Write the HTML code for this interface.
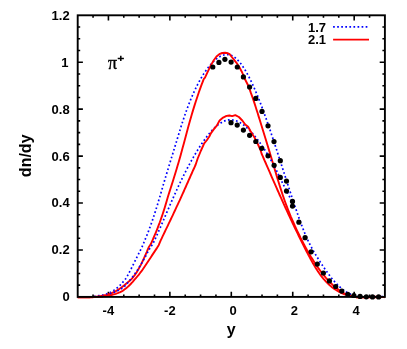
<!DOCTYPE html>
<html><head><meta charset="utf-8"><title>plot</title>
<style>
html,body{margin:0;padding:0;background:#fff;}
svg{display:block;will-change:transform;font-family:"Liberation Sans",sans-serif;}
.t{font-size:13px;font-weight:bold;fill:#000;}
.a{font-size:16px;font-weight:bold;fill:#000;}
.b{fill:none;stroke:#0000ff;stroke-width:1.7;stroke-dasharray:1.7 2.37;}
.r{fill:none;stroke:#ff0000;stroke-width:1.9;stroke-linejoin:round;}
</style></head><body>
<svg width="407" height="349" viewBox="0 0 407 349">
<rect width="407" height="349" fill="#fff"/>
<path d="M93.06,296.9v-2.5M93.06,15.3v2.5M108.42,296.9v-5.2M108.42,15.3v5.2M123.78,296.9v-2.5M123.78,15.3v2.5M139.14,296.9v-2.5M139.14,15.3v2.5M154.50,296.9v-2.5M154.50,15.3v2.5M169.86,296.9v-5.2M169.86,15.3v5.2M185.22,296.9v-2.5M185.22,15.3v2.5M200.58,296.9v-2.5M200.58,15.3v2.5M215.94,296.9v-2.5M215.94,15.3v2.5M231.30,296.9v-5.2M231.30,15.3v5.2M246.66,296.9v-2.5M246.66,15.3v2.5M262.02,296.9v-2.5M262.02,15.3v2.5M277.38,296.9v-2.5M277.38,15.3v2.5M292.74,296.9v-5.2M292.74,15.3v5.2M308.10,296.9v-2.5M308.10,15.3v2.5M323.46,296.9v-2.5M323.46,15.3v2.5M338.82,296.9v-2.5M338.82,15.3v2.5M354.18,296.9v-5.2M354.18,15.3v5.2M369.54,296.9v-2.5M369.54,15.3v2.5M77.7,285.17h2.5M384.9,285.17h-2.5M77.7,273.43h2.5M384.9,273.43h-2.5M77.7,261.70h2.5M384.9,261.70h-2.5M77.7,249.97h5.2M384.9,249.97h-5.2M77.7,238.23h2.5M384.9,238.23h-2.5M77.7,226.50h2.5M384.9,226.50h-2.5M77.7,214.77h2.5M384.9,214.77h-2.5M77.7,203.03h5.2M384.9,203.03h-5.2M77.7,191.30h2.5M384.9,191.30h-2.5M77.7,179.57h2.5M384.9,179.57h-2.5M77.7,167.83h2.5M384.9,167.83h-2.5M77.7,156.10h5.2M384.9,156.10h-5.2M77.7,144.37h2.5M384.9,144.37h-2.5M77.7,132.63h2.5M384.9,132.63h-2.5M77.7,120.90h2.5M384.9,120.90h-2.5M77.7,109.17h5.2M384.9,109.17h-5.2M77.7,97.43h2.5M384.9,97.43h-2.5M77.7,85.70h2.5M384.9,85.70h-2.5M77.7,73.97h2.5M384.9,73.97h-2.5M77.7,62.23h5.2M384.9,62.23h-5.2M77.7,50.50h2.5M384.9,50.50h-2.5M77.7,38.77h2.5M384.9,38.77h-2.5M77.7,27.03h2.5M384.9,27.03h-2.5" stroke="#000" stroke-width="1.6" fill="none"/>
<path d="M77.7,297.0 L78.7,297.0 L79.7,297.0 L80.7,297.0 L81.7,297.0 L82.7,297.0 L83.7,297.0 L84.7,297.0 L85.7,297.0 L86.7,297.0 L87.7,297.0 L88.7,297.0 L89.7,296.9 L90.7,296.9 L91.7,296.8 L92.7,296.6 L93.7,296.5 L94.7,296.4 L95.7,296.3 L96.7,296.1 L97.7,295.9 L98.7,295.7 L99.7,295.6 L100.7,295.4 L101.7,295.2 L102.7,295.0 L103.7,294.8 L104.7,294.5 L105.7,294.2 L106.7,293.9 L107.7,293.5 L108.7,293.1 L109.7,292.7 L110.7,292.2 L111.7,291.7 L112.7,291.0 L113.7,290.4 L114.7,289.7 L115.7,288.9 L116.7,288.2 L117.7,287.4 L118.7,286.6 L119.7,285.7 L120.7,284.7 L121.7,283.6 L122.7,282.4 L123.7,281.1 L124.7,280.0 L125.7,278.7 L126.7,277.2 L127.7,275.4 L128.7,273.5 L129.7,271.6 L130.7,269.7 L131.7,267.7 L132.7,265.7 L133.7,263.7 L134.7,261.7 L135.7,259.6 L136.7,257.6 L137.7,255.6 L138.7,253.6 L139.7,251.6 L140.7,249.7 L141.7,247.7 L143.7,243.0 L144.7,240.6 L145.7,238.2 L146.7,235.7 L147.7,233.2 L148.7,230.6 L149.7,227.9 L150.7,225.2 L151.7,222.4 L152.7,219.5 L153.7,216.5 L154.7,213.5 L155.7,210.3 L156.7,207.1 L157.7,203.9 L158.7,200.5 L159.7,197.2 L160.7,193.8 L161.7,190.3 L162.7,186.9 L163.7,183.5 L164.7,180.1 L165.7,176.8 L166.7,173.5 L167.7,170.2 L168.7,166.9 L169.7,163.6 L170.7,160.4 L171.7,157.1 L172.7,153.9 L173.7,150.6 L174.7,147.3 L175.7,144.1 L176.7,140.8 L177.7,137.5 L178.7,134.2 L179.7,131.0 L180.7,127.7 L181.7,124.6 L182.7,121.5 L183.7,118.5 L184.7,115.5 L185.7,112.7 L186.7,109.9 L187.7,107.2 L188.7,104.6 L189.7,102.0 L190.7,99.5 L191.7,97.2 L192.7,94.8 L193.7,92.6 L194.7,90.4 L195.7,88.3 L196.7,86.3 L197.7,84.3 L198.7,82.4 L199.7,80.6 L200.7,78.8 L201.7,77.1 L202.7,75.5 L203.7,73.9 L204.7,72.4 L205.7,70.9 L206.7,69.5 L207.7,68.2 L208.7,66.9 L209.7,65.7 L210.7,64.5 L211.7,63.4 L212.7,62.3 L213.7,61.3 L214.7,60.4 L215.7,59.5 L216.7,58.7 L217.7,57.9 L218.7,57.3 L219.7,56.7 L220.7,56.1 L221.7,55.7 L222.7,55.3 L223.7,55.0 L224.7,54.7 L225.7,54.6 L226.7,54.5 L227.7,54.6 L228.7,54.7 L229.7,54.9 L230.7,55.2 L231.7,55.6 L232.7,56.1 L233.7,56.7 L234.7,57.4 L235.7,58.2 L236.7,59.1 L237.7,60.1 L238.7,61.1 L239.7,62.3 L240.7,63.5 L241.7,64.9 L242.7,66.3 L243.7,67.8 L244.7,69.4 L245.7,71.0 L246.7,72.8 L247.7,74.6 L248.7,76.4 L249.7,78.4 L250.7,80.4 L251.7,82.5 L252.7,84.6 L253.7,86.8 L254.7,89.1 L255.7,91.4 L256.7,93.8 L257.7,96.2 L258.7,98.7 L259.7,101.3 L260.7,103.9 L261.7,106.5 L262.7,109.2 L263.7,111.9 L264.7,114.7 L265.7,117.4 L266.7,120.3 L267.7,123.1 L268.7,126.0 L269.7,129.0 L270.7,131.9 L271.7,134.9 L272.7,137.9 L273.7,140.9 L274.7,144.0 L275.7,147.0 L276.7,150.1 L277.7,153.2 L278.7,156.3 L279.7,159.4 L280.7,162.5 L281.7,165.6 L282.7,168.7 L283.7,171.8 L284.7,174.9 L285.7,178.0 L286.7,181.1 L287.7,184.2 L288.7,187.3 L289.7,190.3 L290.7,193.4 L291.7,196.4 L292.7,199.5 L293.7,202.5" class="b"/><path d="M294.7,205.5 L295.7,208.4 L296.7,211.4 L297.7,214.3 L298.7,217.1 L299.7,219.9 L300.7,222.7 L301.7,225.4 L302.7,228.0 L303.7,230.5 L304.7,233.0 L305.7,235.4 L306.7,237.7 L307.7,239.9 L308.7,242.0 L309.7,244.0 L310.7,246.0 L311.7,247.8 L312.7,249.6 L313.7,251.4 L314.7,253.1 L315.7,254.8 L316.7,256.4 L317.7,258.0 L318.7,259.6 L319.7,261.1 L320.7,262.7 L321.7,264.2 L322.7,265.7 L323.7,267.2 L324.7,268.7 L325.7,270.2 L326.7,271.6 L327.7,273.0 L328.7,274.3 L329.7,275.6 L330.7,276.9 L331.7,278.2 L332.7,279.4 L333.7,280.6 L334.7,281.7 L335.7,282.8 L336.7,283.9 L337.7,284.9 L338.7,285.9 L339.7,286.8 L340.7,287.7 L341.7,288.6 L342.7,289.4 L343.7,290.1 L344.7,290.9 L345.7,291.5 L346.7,292.2 L347.7,292.8 L348.7,293.3 L349.7,293.9 L350.7,294.3 L351.7,294.8 L352.7,295.2 L353.7,295.5 L354.7,295.8 L355.7,296.1 L356.7,296.3 L357.7,296.5 L358.7,296.7 L359.7,296.8 L360.7,296.9 L361.7,296.9 L362.7,297.0 L363.7,297.0 L364.7,297.0 L365.7,297.0 L366.7,297.0 L367.7,296.9 L368.7,296.9 L369.7,296.8 L370.7,296.8 L371.7,296.7 L372.7,296.6 L373.7,296.6 L374.7,296.5 L375.7,296.5 L376.7,296.5 L377.7,296.5 L378.7,296.5 L379.7,296.5 L380.7,296.6 L381.7,296.6 L382.7,296.7 L383.7,296.9 L384.7,297.0" class="b" stroke-dasharray="2.7 1.37"/>
<path d="M77.7,297.2 L78.7,297.2 L79.7,297.2 L80.7,297.2 L81.7,297.2 L82.7,297.2 L83.7,297.2 L84.7,297.2 L85.7,297.2 L86.7,297.2 L87.7,297.2 L88.7,297.2 L89.7,297.2 L90.7,297.1 L91.7,297.1 L92.7,297.0 L93.7,296.9 L94.7,296.8 L95.7,296.7 L96.7,296.6 L97.7,296.5 L98.7,296.3 L99.7,296.2 L100.7,296.1 L101.7,295.9 L102.7,295.7 L103.7,295.5 L104.7,295.3 L105.7,295.1 L106.7,294.8 L107.7,294.5 L108.7,294.2 L109.7,293.8 L110.7,293.5 L111.7,293.1 L112.7,292.6 L113.7,292.2 L114.7,291.7 L115.7,291.2 L116.7,290.6 L117.7,290.0 L118.7,289.4 L119.7,288.7 L120.7,288.0 L121.7,287.3 L122.7,286.5 L123.7,285.7 L124.7,284.9 L125.7,284.1 L126.7,283.2 L127.7,282.4 L128.7,281.6 L129.7,280.7 L130.7,279.8 L131.7,278.8 L132.7,277.7 L133.7,276.5 L134.7,275.2 L135.7,273.8 L136.7,272.2 L137.7,270.5 L138.7,268.7 L139.7,266.9 L140.7,265.1 L141.7,263.1 L142.7,261.0 L143.7,258.8 L144.7,256.6 L145.7,254.3 L146.7,252.1 L147.7,249.7 L148.7,247.3 L150.7,244.3 L151.7,242.1 L152.7,239.8 L153.7,237.5 L154.7,235.2 L155.7,232.8 L156.7,230.3 L157.7,227.8 L158.7,225.2 L159.7,222.6 L160.7,219.8 L161.7,216.9 L162.7,214.0 L163.7,210.9 L164.7,207.7 L165.7,204.4 L166.7,201.0 L167.7,197.6 L168.7,194.3 L169.7,191.1 L170.7,188.0 L171.7,184.9 L172.7,181.7 L173.7,178.5 L174.7,175.3 L175.7,172.0 L176.7,168.7 L177.7,165.3 L178.7,161.9 L179.7,158.4 L180.7,154.9 L181.7,151.3 L182.7,147.6 L183.7,143.9 L184.7,140.2 L185.7,136.4 L186.7,132.7 L187.7,128.9 L188.7,125.3 L189.7,121.7 L190.7,118.2 L191.7,114.7 L192.7,111.4 L193.7,108.1 L194.7,104.9 L195.7,101.7 L196.7,98.7 L197.7,95.7 L198.7,92.7 L199.7,89.9 L200.7,87.1 L201.7,84.4 L202.7,81.8 L203.7,79.2 L205.0,77.7 L207.9,71.4 L210.7,65.6 L213.6,60.5 L216.5,56.5 L219.3,54.2 L222.2,53.0 L225.1,52.7 L227.9,53.3 L229.6,54.2 L231.4,56.5 L233.7,59.3 L236.5,62.8 L239.4,67.3 L242.2,72.5 L244.5,78.2 L248.7,86.5 L250.7,92.4 L251.7,95.1 L252.7,98.0 L253.7,100.9 L254.7,103.9 L255.7,107.0 L256.7,110.2 L257.7,113.3 L258.7,116.6 L259.7,119.8 L260.7,123.0 L261.7,126.2 L262.7,129.5 L263.7,132.7 L264.7,136.0 L265.7,139.2 L266.7,142.5 L267.7,145.8 L268.7,149.1 L269.7,152.4 L270.7,155.8 L271.7,159.1 L272.7,162.5 L273.7,165.8 L274.7,169.2 L275.7,172.6 L276.7,175.9 L277.7,179.2 L278.7,182.5 L279.7,185.7 L280.7,188.9 L281.7,191.9 L282.7,195.0 L283.7,197.9 L284.7,200.7 L285.7,203.5 L286.7,206.2 L287.7,208.8 L288.7,211.3 L289.7,213.8 L290.7,216.3 L291.7,218.6 L292.7,221.0 L293.7,223.2 L294.7,225.5 L295.7,227.6 L296.7,229.8 L297.7,231.9 L298.7,234.0 L299.7,236.0 L300.7,238.1 L301.7,240.0 L302.7,242.0 L303.7,243.9 L304.7,245.8 L305.7,247.6 L306.7,249.5 L307.7,251.2 L308.7,253.0 L309.7,254.7 L310.7,256.4 L311.7,258.0 L312.7,259.6 L313.7,261.2 L314.7,262.8 L315.7,264.3 L316.7,265.8 L317.7,267.2 L318.7,268.6 L319.7,270.0 L320.7,271.4 L321.7,272.7 L322.7,274.0 L323.7,275.2 L324.7,276.4 L325.7,277.6 L326.7,278.7 L327.7,279.8 L328.7,280.9 L329.7,282.0 L330.7,283.0 L331.7,283.9 L332.7,284.9 L333.7,285.8 L334.7,286.7 L335.7,287.5 L336.7,288.3 L337.7,289.1 L338.7,289.8 L339.7,290.5 L340.7,291.2 L341.7,291.8 L342.7,292.4 L343.7,293.0 L344.7,293.5 L345.7,294.0 L346.7,294.5 L347.7,294.9 L348.7,295.3 L349.7,295.7 L350.7,296.0 L351.7,296.3 L352.7,296.5 L353.7,296.8 L354.7,296.9 L355.7,297.1 L356.7,297.2 L357.7,297.3 L358.7,297.4 L359.7,297.4 L360.7,297.4 L361.7,297.4 L362.7,297.4 L363.7,297.4 L364.7,297.4 L365.7,297.4 L366.7,297.3 L367.7,297.3 L368.7,297.2 L369.7,297.1 L370.7,297.1 L371.7,297.0 L372.7,296.9 L373.7,296.9 L374.7,296.8 L375.7,296.8 L376.7,296.7 L377.7,296.7 L378.7,296.7 L379.7,296.8 L380.7,296.8 L381.7,296.9 L382.7,297.0 L383.7,297.1 L384.7,297.2" class="r"/>
<path d="M77.7,297.2 L78.7,297.2 L79.7,297.2 L80.7,297.2 L81.7,297.2 L82.7,297.2 L83.7,297.2 L84.7,297.2 L85.7,297.2 L86.7,297.2 L87.7,297.2 L88.7,297.2 L89.7,297.2 L90.7,297.2 L91.7,297.2 L92.7,297.1 L93.7,297.1 L94.7,297.0 L95.7,297.0 L96.7,296.9 L97.7,296.8 L98.7,296.7 L99.7,296.6 L100.7,296.5 L101.7,296.4 L102.7,296.2 L103.7,296.1 L104.7,295.9 L105.7,295.6 L106.7,295.3 L107.7,295.0 L108.7,294.7 L109.7,294.3 L110.7,293.9 L111.7,293.5 L112.7,293.0 L113.7,292.6 L114.7,292.1 L115.7,291.6 L116.7,291.2 L117.7,290.7 L118.7,290.3 L119.7,289.7 L120.7,289.1 L121.7,288.5 L122.7,287.8 L123.7,287.0 L124.7,286.1 L125.7,285.1 L126.7,284.0 L127.7,282.8 L128.7,281.6 L129.7,280.4 L130.7,279.2 L131.7,277.9 L132.7,276.7 L133.7,275.4 L134.7,274.0 L135.7,272.6 L136.7,271.2 L137.7,269.7 L138.7,268.1 L139.7,266.5 L140.7,264.9 L141.7,263.2 L142.7,261.4 L143.7,259.7 L144.7,257.8 L145.7,256.0 L146.7,254.1 L147.7,252.2 L148.7,250.4 L149.7,248.6 L150.7,246.8 L152.7,244.3 L153.7,242.2 L154.7,240.0 L155.7,237.8 L156.7,235.6 L157.7,233.4 L158.7,231.1 L159.7,228.9 L160.7,226.6 L161.7,224.3 L162.7,222.0 L163.7,219.7 L164.7,217.4 L165.7,215.0 L166.7,212.7 L167.7,210.4 L168.7,208.1 L169.7,205.8 L170.7,203.5 L171.7,201.2 L172.7,198.9 L173.7,196.6 L174.7,194.4 L175.7,192.2 L176.7,190.0 L177.7,187.8 L178.7,185.7 L179.7,183.6 L180.7,181.5 L181.7,179.4 L182.7,177.3 L183.7,175.3 L184.7,173.3 L185.7,171.4 L186.7,169.4 L187.7,167.5 L188.7,165.6 L189.7,163.8 L190.7,162.0 L191.7,160.2 L192.7,158.4 L193.7,156.7 L194.7,154.9 L195.7,153.3 L196.7,151.6 L197.7,150.0 L198.7,148.4 L199.7,146.8 L200.7,145.3 L201.7,143.8 L202.7,142.3 L203.7,140.9 L204.7,139.5 L205.7,138.1 L206.7,136.8 L207.7,135.5 L208.7,134.3 L209.7,133.1 L210.7,131.9 L211.7,130.8 L212.7,129.7 L213.7,128.7 L214.7,127.7 L215.7,126.8 L216.7,125.9 L217.7,125.1 L218.7,124.3 L219.7,123.6 L220.7,123.0 L221.7,122.4 L222.7,121.8 L223.7,121.3 L224.7,120.9 L225.7,120.6 L226.7,120.3 L227.7,120.1 L228.7,119.9 L229.7,119.8 L230.7,119.8 L231.7,119.9 L232.7,120.0 L233.7,120.1 L234.7,120.4 L235.7,120.7 L236.7,121.0 L237.7,121.4 L238.7,121.9 L239.7,122.4 L240.7,123.0 L241.7,123.6 L242.7,124.3 L243.7,125.0 L244.7,125.8 L245.7,126.6 L246.7,127.5 L247.7,128.4 L248.7,129.4 L249.7,130.4 L250.7,131.4 L251.7,132.5 L252.7,133.6 L253.7,134.8 L254.7,136.0 L255.7,137.2 L256.7,138.5 L257.7,139.8 L258.7,141.1 L259.7,142.5 L260.7,143.9 L261.7,145.3 L262.7,146.8 L263.7,148.3 L264.7,149.8 L265.7,151.4 L266.7,153.0 L267.7,154.6 L268.7,156.3 L269.7,158.0 L270.7,159.7 L271.7,161.5 L272.7,163.3 L273.7,165.2 L274.7,167.1 L275.7,169.0 L276.7,171.0 L277.7,173.0 L278.7,175.1 L279.7,177.1 L280.7,179.2 L281.7,181.2 L282.7,183.3 L283.7,185.3 L284.7,187.3 L285.7,189.3 L286.7,191.2 L287.7,193.1 L288.7,195.1 L289.7,197.0 L290.7,199.0 L291.7,200.9 L292.7,203.0" class="b"/>
<path d="M77.7,297.2 L78.7,297.2 L79.7,297.2 L80.7,297.2 L81.7,297.2 L82.7,297.2 L83.7,297.2 L84.7,297.2 L85.7,297.2 L86.7,297.2 L87.7,297.2 L88.7,297.2 L89.7,297.2 L90.7,297.2 L91.7,297.2 L92.7,297.2 L93.7,297.1 L94.7,297.1 L95.7,297.1 L96.7,297.1 L97.7,297.0 L98.7,297.0 L99.7,296.9 L100.7,296.8 L101.7,296.7 L102.7,296.5 L103.7,296.4 L104.7,296.3 L105.7,296.2 L106.7,296.0 L107.7,295.8 L108.7,295.7 L109.7,295.4 L110.7,295.2 L111.7,295.0 L112.7,294.7 L113.7,294.4 L114.7,294.1 L115.7,293.8 L116.7,293.4 L117.7,293.1 L118.7,292.7 L119.7,292.3 L120.7,291.8 L121.7,291.3 L122.7,290.8 L123.7,290.1 L124.7,289.3 L125.7,288.6 L126.7,287.7 L127.7,286.9 L128.7,286.0 L129.7,285.0 L130.7,284.0 L131.7,282.9 L132.7,281.8 L133.7,280.6 L134.7,279.4 L135.7,278.3 L136.7,277.2 L137.7,276.0 L138.7,274.8 L139.7,273.5 L140.7,272.2 L141.7,270.9 L142.7,269.5 L143.7,268.0 L144.7,266.5 L145.7,265.0 L146.7,263.5 L147.7,262.0 L148.7,260.5 L149.7,259.0 L150.7,257.5 L151.7,255.9 L152.7,254.4 L153.7,252.9 L154.7,251.4 L155.7,249.9 L156.7,248.4 L157.7,246.8 L158.7,245.2 L160.7,240.4 L161.7,238.3 L162.7,236.2 L163.7,234.1 L164.7,232.0 L165.7,229.9 L166.7,227.9 L167.7,225.8 L168.7,223.7 L169.7,221.6 L170.7,219.5 L171.7,217.4 L172.7,215.3 L173.7,213.1 L174.7,211.0 L175.7,208.9 L176.7,206.7 L177.7,204.6 L178.7,202.4 L179.7,200.3 L180.7,198.1 L181.7,195.9 L182.7,193.7 L183.7,191.5 L184.7,189.2 L185.7,187.0 L186.7,184.7 L187.7,182.5 L188.7,180.2 L189.7,178.0 L190.7,175.7 L191.7,173.5 L192.7,171.2 L193.7,169.0 L194.7,166.8 L195.7,164.5 L197.7,158.5 L201.0,150.5 L204.2,143.4 L207.0,140.0 L209.3,136.5 L211.0,133.1 L213.9,129.1 L216.8,125.6 L219.6,120.5 L223.1,117.6 L226.5,115.9 L229.4,115.5 L232.2,116.1 L235.3,115.1 L238.9,117.0 L242.3,120.5 L245.2,124.5 L248.1,126.8 L250.3,130.8 L253.2,135.4 L255.5,139.4 L258.0,144.5 L260.4,149.8 L261.7,154.0 L262.7,156.2 L263.7,158.5 L264.7,160.8 L265.7,163.0 L266.7,165.3 L267.7,167.6 L268.7,169.9 L269.7,172.2 L270.7,174.5 L271.7,176.8 L272.7,179.1 L273.7,181.4 L274.7,183.7 L275.7,185.9 L276.7,188.2 L277.7,190.5 L278.7,192.7 L279.7,195.0 L280.7,197.2 L281.7,199.4 L282.7,201.7 L283.7,203.9 L284.7,206.1 L285.7,208.3 L286.7,210.4 L287.7,212.6 L288.7,214.8 L289.7,216.9 L290.7,219.1 L291.7,221.2 L292.7,223.3 L293.7,225.4 L294.7,227.5 L295.7,229.6 L296.7,231.7 L297.7,233.7 L298.7,235.8 L299.7,237.8 L300.7,239.8 L301.7,241.8 L302.7,243.8 L303.7,245.8 L304.7,247.8 L305.7,249.8 L306.7,251.7 L307.7,253.6 L308.7,255.5 L309.7,257.4 L310.7,259.3 L311.7,261.1 L312.7,262.9 L313.7,264.6 L314.7,266.3 L315.7,267.9 L316.7,269.5 L317.7,271.1 L318.7,272.5 L319.7,274.0 L320.7,275.3 L321.7,276.6 L322.7,277.9 L323.7,279.1 L324.7,280.2 L325.7,281.3 L326.7,282.3 L327.7,283.3 L328.7,284.3 L329.7,285.2 L330.7,286.1 L331.7,286.9 L332.7,287.7 L333.7,288.4 L334.7,289.1 L335.7,289.8 L336.7,290.4 L337.7,291.0 L338.7,291.6 L339.7,292.1 L340.7,292.6 L341.7,293.1 L342.7,293.5 L343.7,294.0 L344.7,294.3 L345.7,294.7 L346.7,295.0 L347.7,295.4 L348.7,295.6 L349.7,295.9 L350.7,296.1 L351.7,296.4 L352.7,296.6 L353.7,296.7 L354.7,296.9 L355.7,297.0 L356.7,297.2 L357.7,297.3 L358.7,297.4 L359.7,297.4 L360.7,297.4 L361.7,297.4 L362.7,297.4 L363.7,297.4 L364.7,297.4 L365.7,297.4 L366.7,297.4 L367.7,297.4 L368.7,297.4 L369.7,297.4 L370.7,297.4 L371.7,297.4 L372.7,297.4 L373.7,297.4 L374.7,297.4 L375.7,297.3 L376.7,297.3 L377.7,297.3 L378.7,297.2 L379.7,297.2 L380.7,297.2 L381.7,297.1 L382.7,297.1 L383.7,297.1 L384.7,297.1" class="r"/>
<rect x="77.7" y="15.3" width="307.2" height="281.6" fill="none" stroke="#000" stroke-width="1.9"/>
<g fill="#000"><circle cx="212.8" cy="67.0" r="2.6"/><circle cx="218.9" cy="62.4" r="2.6"/><circle cx="224.9" cy="59.3" r="2.6"/><circle cx="231.1" cy="62.1" r="2.6"/><circle cx="237.3" cy="67.0" r="2.6"/><circle cx="243.4" cy="76.9" r="2.6"/><circle cx="249.6" cy="87.0" r="2.6"/><circle cx="255.8" cy="98.4" r="2.6"/><circle cx="262.0" cy="111.4" r="2.6"/><circle cx="268.0" cy="125.8" r="2.6"/><circle cx="274.0" cy="141.6" r="2.6"/><circle cx="280.3" cy="160.7" r="2.6"/><circle cx="286.5" cy="181.1" r="2.6"/><circle cx="292.5" cy="201.4" r="2.6"/><circle cx="298.9" cy="222.2" r="2.6"/><circle cx="305.1" cy="237.7" r="2.6"/><circle cx="311.1" cy="251.8" r="2.6"/><circle cx="317.3" cy="264.1" r="2.6"/><circle cx="323.4" cy="273.0" r="2.6"/><circle cx="329.4" cy="280.9" r="2.6"/><circle cx="335.7" cy="286.5" r="2.6"/><circle cx="341.8" cy="291.1" r="2.6"/><circle cx="347.8" cy="294.3" r="2.6"/><circle cx="353.9" cy="295.5" r="2.6"/><circle cx="360.1" cy="296.4" r="2.6"/><circle cx="366.3" cy="296.8" r="2.6"/><circle cx="372.5" cy="296.9" r="2.6"/><circle cx="378.6" cy="296.9" r="2.6"/><circle cx="231.0" cy="122.7" r="2.6"/><circle cx="237.2" cy="125.1" r="2.6"/><circle cx="243.4" cy="130.1" r="2.6"/><circle cx="249.6" cy="135.3" r="2.6"/><circle cx="255.8" cy="141.5" r="2.6"/><circle cx="261.8" cy="148.3" r="2.6"/><circle cx="268.0" cy="155.8" r="2.6"/><circle cx="274.1" cy="165.3" r="2.6"/><circle cx="280.3" cy="177.4" r="2.6"/><circle cx="286.5" cy="191.1" r="2.6"/><circle cx="292.5" cy="206.1" r="2.6"/></g>
<text x="69.7" y="301.3" text-anchor="end" class="t">0</text><text x="69.7" y="254.4" text-anchor="end" class="t">0.2</text><text x="69.7" y="207.4" text-anchor="end" class="t">0.4</text><text x="69.7" y="160.5" text-anchor="end" class="t">0.6</text><text x="69.7" y="113.6" text-anchor="end" class="t">0.8</text><text x="68.6" y="66.6" text-anchor="end" class="t">1</text><text x="69.7" y="19.7" text-anchor="end" class="t">1.2</text><text x="108.4" y="315.0" text-anchor="middle" class="t">-4</text><text x="169.9" y="315.0" text-anchor="middle" class="t">-2</text><text x="233.0" y="315.0" text-anchor="middle" class="t">0</text><text x="294.3" y="315.0" text-anchor="middle" class="t">2</text><text x="356.0" y="315.0" text-anchor="middle" class="t">4</text>
<text x="231.2" y="334.6" text-anchor="middle" class="a">y</text>
<text transform="translate(30.6,155.8) rotate(-90)" text-anchor="middle" class="a">dn/dy</text>
<text x="108" y="69.3" style="font-family:'Liberation Serif',serif;font-size:18px;stroke:#000;stroke-width:0.35">π</text>
<path d="M117.7,58.4H123.9M120.8,55.8V61" stroke="#000" stroke-width="1.5" fill="none"/>
<text x="308" y="31.6" class="t">1.7</text>
<text x="308" y="44" class="t">2.1</text>
<path d="M333.1,26.9H367.6" class="b"/>
<path d="M333.1,39.6H369" class="r"/>
</svg>
</body></html>
